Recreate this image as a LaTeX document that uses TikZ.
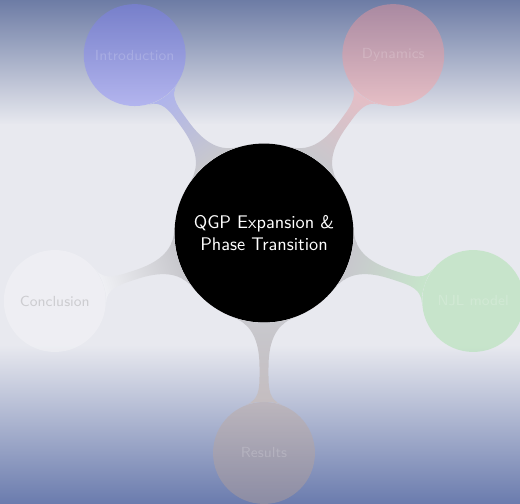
\documentclass[tikz,border=0pt]{standalone}
\usetikzlibrary{mindmap}
\definecolor{bgtop}{HTML}{6D7CA5}
\definecolor{bgmid}{HTML}{E8E9EF}
\definecolor{bgbot}{HTML}{6B7CAE}
\colorlet{introcol}{blue!50}
\colorlet{dyncol}{red!40}
\definecolor{njlcol}{RGB}{150,222,150}
\definecolor{concol}{RGB}{247,247,249}
\definecolor{rescol}{RGB}{190,165,150}
% connector colours, already blended with the background
\definecolor{hublink}{RGB}{200,200,205}
\definecolor{introlink}{RGB}{175,180,235}
\definecolor{dynlink}{RGB}{228,190,198}
\definecolor{njllink}{RGB}{199,229,203}
\definecolor{reslink}{RGB}{196,189,192}
\definecolor{conlink}{RGB}{238,239,243}
\tikzset{
  hub/.style={circle, fill=black, text=white, minimum size=3.44cm, inner sep=0pt, align=center, font=\sffamily},
  topic/.style={circle, fill=#1, fill opacity=0.4, text=white, text opacity=0.18, minimum size=1.96cm, inner sep=0pt, font=\sffamily\footnotesize},
  linkbar/.style={circle connection bar switch color=from (hublink) to (#1), line width=12pt}
}

\begin{document}
\begin{tikzpicture}
        \useasboundingbox (-5.077,-5.192) rectangle (4.923,4.481);
        % background
        \shade[top color=bgtop, bottom color=bgmid] (-5.077,2.08) rectangle (4.923,4.481);
        \fill[bgmid] (-5.077,-2.16) rectangle (4.923,2.096);
        \shade[top color=bgmid, bottom color=bgbot] (-5.077,-5.192) rectangle (4.923,-2.154);
        % concepts
        \node[hub] (qgp) at (0,0) {QGP Expansion \&\\Phase Transition};
        \node[topic=introcol] (intro) at (126:4.23) {Introduction};
        \node[topic=dyncol] (dyn) at (54:4.23) {Dynamics};
        \node[topic=njlcol] (njl) at (-18:4.23) {NJL model};
        \node[topic=rescol] (res) at (-90:4.23) {Results};
        \node[topic=concol, text=gray, text opacity=0.3] (concl) at (198:4.23) {Conclusion};
        % connections
        \path (qgp) to[linkbar=introlink] (intro);
        \path (qgp) to[linkbar=dynlink] (dyn);
        \path (qgp) to[linkbar=njllink] (njl);
        \path (qgp) to[linkbar=reslink] (res);
        \path (qgp) to[linkbar=conlink] (concl);
\end{tikzpicture}
\end{document}
